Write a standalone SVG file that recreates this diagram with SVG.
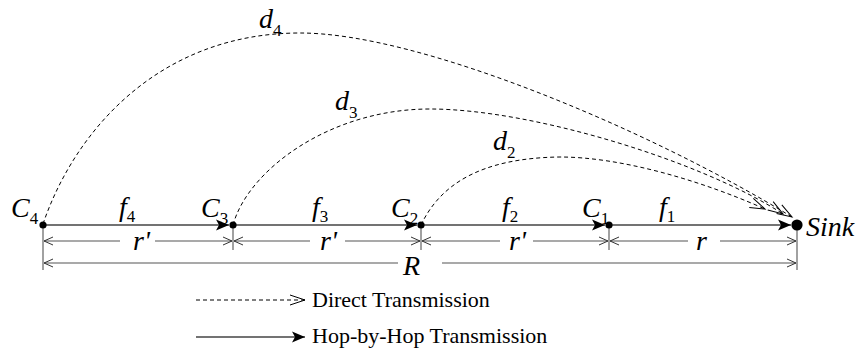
<svg xmlns="http://www.w3.org/2000/svg" width="863" height="360" viewBox="0 0 863 360" font-family="Liberation Serif, DejaVu Serif, serif">
<style>
text{font-family:'Liberation Serif','DejaVu Serif','Noto Serif',Times,serif;fill:#000}
.m{font-style:italic;font-size:28px}
.s{font-style:normal;font-size:17px}
.lg{font-size:22px}
.hop{fill:none;stroke:#444;stroke-width:1.3}
.dim{fill:none;stroke:#555;stroke-width:1.1}
.dash{fill:none;stroke:#000;stroke-width:1;stroke-dasharray:4 3}
.dot{fill:#000}
</style>
<defs>
<marker id="fa" markerUnits="userSpaceOnUse" markerWidth="16" markerHeight="12" refX="13" refY="6" orient="auto">
<path d="M13,6 L0,0.5 L3,6 L0,11.5 Z" fill="#000"/>
</marker>
<marker id="oa" markerUnits="userSpaceOnUse" markerWidth="18" markerHeight="14" refX="16" refY="7" orient="auto">
<path d="M1,2 L16,7 L1,12" fill="none" stroke="#000" stroke-width="1" stroke-dasharray="none"/>
</marker>
<marker id="da" markerUnits="userSpaceOnUse" markerWidth="12" markerHeight="10" refX="10" refY="5" orient="auto-start-reverse">
<path d="M1,1 L10,5 L1,9" fill="none" stroke="#333" stroke-width="1"/>
</marker>
</defs>

<g id="connectors">
<path class="hop" d="M43,225 H229" marker-end="url(#fa)"/>
<path class="hop" d="M233,225 H417" marker-end="url(#fa)"/>
<path class="hop" d="M421,225 H605" marker-end="url(#fa)"/>
<path class="hop" d="M609,225 H791" marker-end="url(#fa)"/>
<path class="dash" d="M43,224 C75,130 160,33 300,33 C420,33 650,130 792,217" marker-end="url(#oa)"/>
<path class="dash" d="M233,225 C248,170 330,109 430,109 C530,109 700,160 783,214" marker-end="url(#oa)"/>
<path class="dash" d="M421,225 C440,185 480,158 560,157 C620,157 700,180 765,209" marker-end="url(#oa)"/>
</g>

<g id="dimensions">
<path class="dim" d="M43,225 V270 M233,225 V250 M421,225 V250 M609,225 V250 M797,225 V270"/>
<path class="dim" d="M44,241 H120 M155,241 H232" marker-start="url(#da)" marker-end="url(#da)"/>
<path class="dim" d="M234,241 H310 M345,241 H420" marker-start="url(#da)" marker-end="url(#da)"/>
<path class="dim" d="M422,241 H500 M533,241 H608" marker-start="url(#da)" marker-end="url(#da)"/>
<path class="dim" d="M610,241 H688 M720,241 H796" marker-start="url(#da)" marker-end="url(#da)"/>
<path class="dim" d="M44,263 H398 M442,263 H796" marker-start="url(#da)" marker-end="url(#da)"/>
<text class="m" x="133" y="250">r'</text>
<text class="m" x="320" y="250">r'</text>
<text class="m" x="509" y="250">r'</text>
<text class="m" x="696" y="250">r</text>
<text class="m" x="403" y="275">R</text>
</g>

<g id="C4">
<circle class="dot" cx="43" cy="225" r="3.6"/>
<text class="m" x="11" y="217">C<tspan class="s" dy="7">4</tspan></text>
</g>
<g id="C3">
<circle class="dot" cx="233" cy="225" r="3.6"/>
<text class="m" x="201" y="217">C<tspan class="s" dy="7">3</tspan></text>
</g>
<g id="C2">
<circle class="dot" cx="421" cy="225" r="3.6"/>
<text class="m" x="391" y="217">C<tspan class="s" dy="7">2</tspan></text>
</g>
<g id="C1">
<circle class="dot" cx="609" cy="225" r="3.6"/>
<text class="m" x="582" y="217">C<tspan class="s" dy="7">1</tspan></text>
</g>
<g id="Sink">
<circle class="dot" cx="797" cy="225" r="5.6"/>
<text class="m" x="806" y="236">Sink</text>
</g>

<g id="labels">
<text class="m" x="119" y="216">f<tspan class="s" dy="6">4</tspan></text>
<text class="m" x="312" y="216">f<tspan class="s" dy="6">3</tspan></text>
<text class="m" x="502" y="216">f<tspan class="s" dy="6">2</tspan></text>
<text class="m" x="659" y="216">f<tspan class="s" dy="6">1</tspan></text>
<text class="m" x="259" y="28">d<tspan class="s" dy="8">4</tspan></text>
<text class="m" x="335" y="110">d<tspan class="s" dy="8">3</tspan></text>
<text class="m" x="493" y="150">d<tspan class="s" dy="8">2</tspan></text>
</g>

<g id="legend">
<path class="dash" d="M196,300 H305" marker-end="url(#oa)"/>
<path class="hop" d="M196,337 H305" marker-end="url(#fa)"/>
<text class="lg" x="312" y="307">Direct Transmission</text>
<text class="lg" x="312" y="343">Hop-by-Hop Transmission</text>
</g>
</svg>
